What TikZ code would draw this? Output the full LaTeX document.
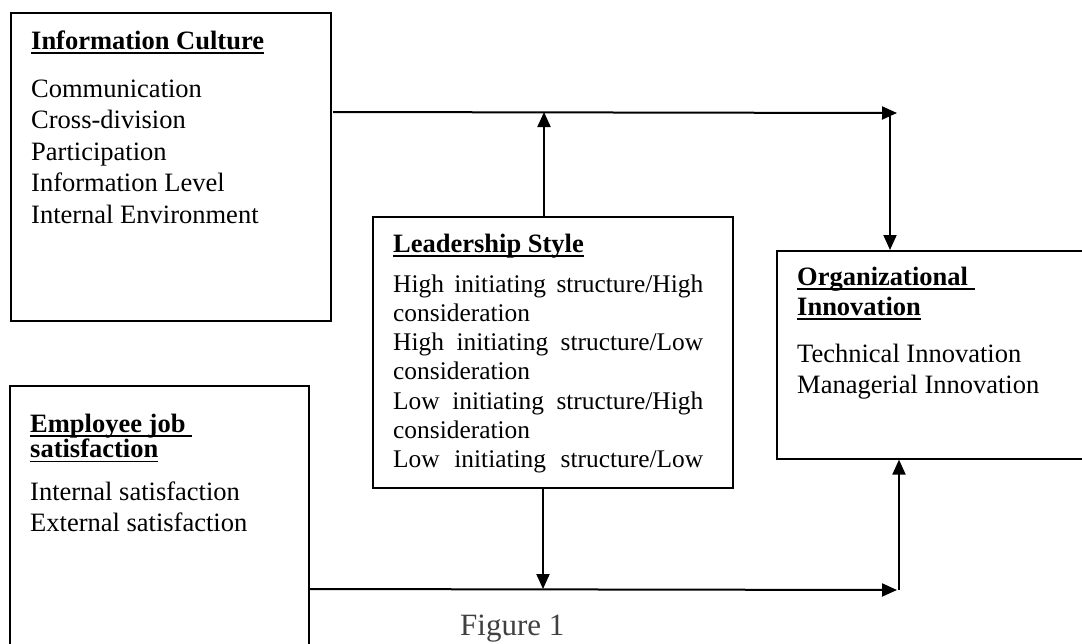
\documentclass[tikz,border=0pt]{standalone}
\usepackage{fontspec}
\setmainfont{Liberation Serif}
\usetikzlibrary{arrows.meta}
\newcommand{\fs}{\fontsize{26.5}{31.5}\selectfont}
\newcommand{\fsl}{\fontsize{25.4}{29.3}\selectfont}
\newsavebox{\hdbox}
\newcommand{\hd}[1]{\leavevmode\sbox{\hdbox}{\textbf{#1}}\rlap{\rule[-5pt]{\wd\hdbox}{1.8pt}}\usebox{\hdbox}}
\tikzset{
  box/.style={draw, line width=1.6pt, anchor=north west, inner sep=0pt},
  txt/.style={anchor=base west, inner sep=0pt},
  conn/.style={line width=2pt},
  arr/.style={conn, -{Triangle[width=13pt,length=15pt]}}
}
\begin{document}
\begin{tikzpicture}[x=1pt,y=-1pt]
\useasboundingbox (0,0) rectangle (1082,643);
% boxes
\node[box, minimum width=320pt, minimum height=308pt] (ic) at (10,12) {};
\node[box, minimum width=299pt, minimum height=280pt] (ejs) at (9,385) {};
\node[box, minimum width=360pt, minimum height=271pt] (ls) at (372,216) {};
\node[box, minimum width=330pt, minimum height=208pt] (oi) at (776,250) {};
% texts
\node[txt] (ich) at (31,49) {\fs\hd{Information Culture}};
\node[txt] (ict) at (31,97) {\parbox[t]{290pt}{\fs Communication\\Cross-division\\Participation\\Information Level\\Internal Environment}};
\node[txt] (ejsh) at (30,432) {\parbox[t]{270pt}{\fontsize{26.5}{20.5}\selectfont\hd{Employee job\ }\\\hd{satisfaction}}};
\node[txt] (ejst) at (30,500) {\parbox[t]{270pt}{\fs Internal satisfaction\\External satisfaction}};
\node[txt] (lsh) at (393,252) {\fs\hd{Leadership Style}};
\node[txt] (lst) at (393,292) {\parbox[t]{310pt}{\fsl
\makebox[\linewidth][s]{High initiating structure/High}\\
consideration\\
\makebox[\linewidth][s]{High initiating structure/Low}\\
consideration\\
\makebox[\linewidth][s]{Low initiating structure/High}\\
consideration\\
\makebox[\linewidth][s]{Low initiating structure/Low}}};
\node[txt] (oih) at (797,285) {\parbox[t]{270pt}{\fontsize{26.5}{30}\selectfont\hd{Organizational\ }\\\hd{Innovation}}};
\node[txt] (oit) at (797,362) {\parbox[t]{270pt}{\fs Technical Innovation\\Managerial Innovation}};
\node[txt, text=black!75] (fig) at (460,635) {\fontsize{31}{36}\selectfont Figure 1};
% junction coordinates
\coordinate (t0) at (333,112);
\coordinate (t1) at (897,113);
\coordinate (tv) at (890,113);
\coordinate (b0) at (309,589);
\coordinate (b1) at (897,590);
\coordinate (bv) at (899,590);
\coordinate (lu) at (544,112);
\coordinate (ld) at (543,589);
% connectors
\draw[arr] (t0) -- (t1);
\draw[arr] (tv) -- (tv |- oi.north);
\draw[arr] (ls.north -| lu) -- (lu);
\draw[arr] (ls.south -| ld) -- (ld);
\draw[arr] (b0) -- (b1);
\draw[arr] (bv) -- (bv |- oi.south);
\end{tikzpicture}
\end{document}
